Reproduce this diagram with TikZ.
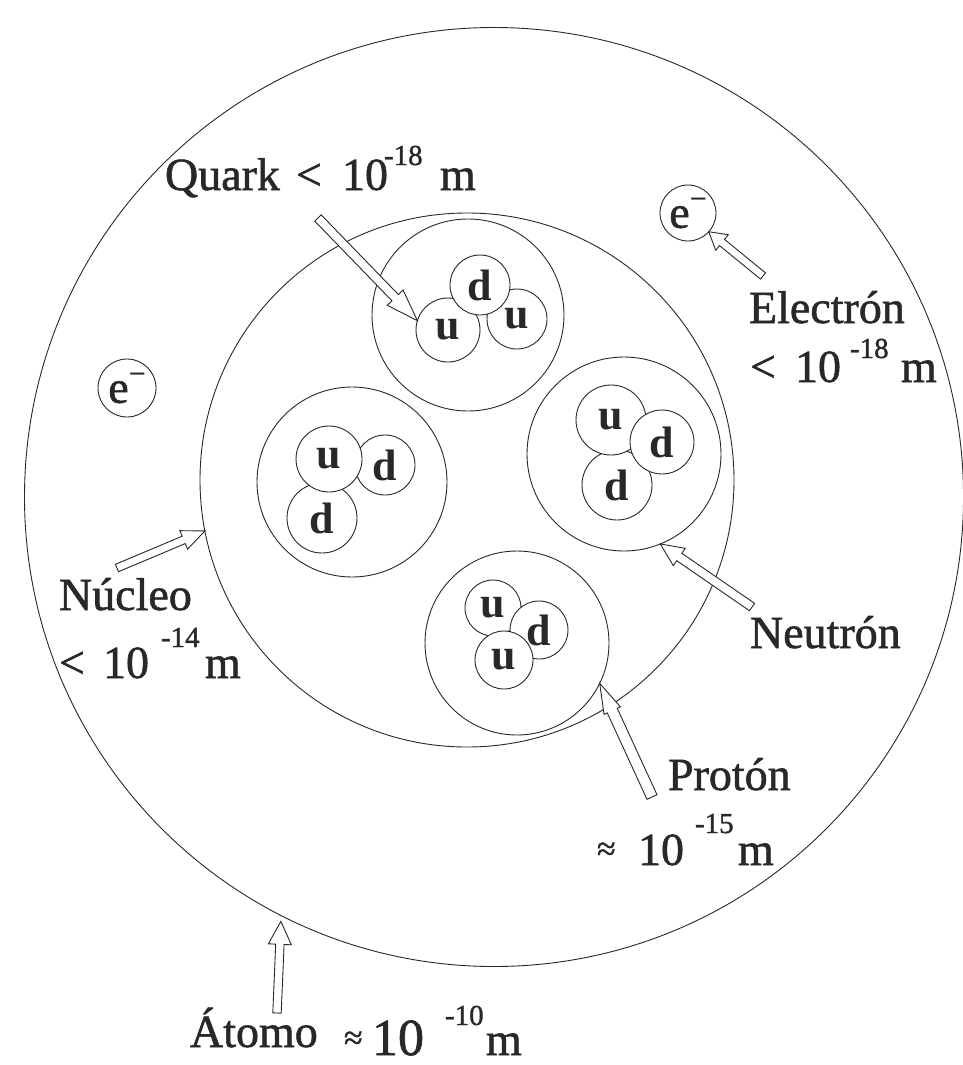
\documentclass[tikz,border=0pt]{standalone}
\usepackage{fontspec}
\setmainfont{Liberation Serif}
\newfontfamily\heavyserif{Liberation Serif}[RawFeature={embolden=1.2}]
\usetikzlibrary{calc}
\definecolor{ink}{RGB}{40,40,40}
\tikzset{
  ring/.style={circle, draw=ink, line width=0.9pt, inner sep=0pt, outer sep=0pt, minimum size=#1},
  quark/.style={circle, draw=ink, fill=white, line width=0.9pt, inner sep=0pt, outer sep=0pt,
    minimum size=#1, text=ink, font=\fontsize{44}{44}\bfseries\selectfont},
  elec/.style={circle, draw=ink, fill=white, line width=0.9pt, inner sep=0pt, outer sep=0pt,
    minimum size=#1, text=ink, font=\heavyserif\fontsize{46}{46}\selectfont},
  lbl/.style={anchor=base west, inner sep=0pt, outer sep=0pt, text depth=0pt, text=ink,
    font=\heavyserif\fontsize{46}{46}\selectfont},
  suplbl/.style={anchor=base west, inner sep=0pt, outer sep=0pt, text depth=0pt, text=ink,
    font=\heavyserif\fontsize{29}{29}\selectfont},
  approxlbl/.style={anchor=base west, inner sep=0pt, outer sep=0pt, text depth=0pt, text=ink,
    font=\heavyserif\fontsize{34}{34}\selectfont},
  barrow/.style={draw=ink, fill=white, line width=0.9pt, line join=miter},
}
% name, tail, tip, shaft half width, head half width, head length
\newcommand\blockarrow[6]{%
  \coordinate (#1h) at ($(#3)!#6!(#2)$);
  \draw[barrow] ($(#2)!#4!90:(#3)$) -- ($(#1h)!#4!-90:(#2)$) -- ($(#1h)!#5!-90:(#2)$)
    -- (#3) -- ($(#1h)!#5!90:(#2)$) -- ($(#1h)!#4!90:(#2)$) -- ($(#2)!#4!-90:(#3)$) -- cycle;
}
\newcommand\eminus{e\raisebox{0.42em}{\fontsize{30}{30}\selectfont −}}
\begin{document}
\begin{tikzpicture}[x=1pt,y=-1pt]
\fill[white] (0,0) rectangle (962,1065);
\useasboundingbox (0,0) rectangle (962,1065);

% atom and nucleus
\node[ring=939pt] (atom) at (494,497) {};
\node[ring=534pt] (nuc) at (467,480) {};

% nucleons
\node[ring=192pt] (p1) at (468,315) {};
\node[ring=190pt] (n1) at (352,482) {};
\node[ring=194pt] (n2) at (624,454) {};
\node[ring=184pt] (p2) at (517,643) {};

% quarks: top proton
\node[quark=64pt] (u1a) at (448,330) {u};
\node[quark=60pt] (u1b) at (517,319) {u};
\node[quark=60pt] (d1) at (480,285) {d};
% left neutron
\node[quark=60pt] (d2a) at (385,465) {d};
\node[quark=70pt] (d2b) at (322,518) {d};
\node[quark=66pt] (u2) at (329,459) {u};
% right neutron
\node[quark=70pt] (d3b) at (617,485) {d};
\node[quark=70pt] (u3) at (611,420) {u};
\node[quark=64pt] (d3a) at (662,442) {d};
% bottom proton
\node[quark=56pt] (u4a) at (493,608) {u};
\node[quark=58pt] (d4) at (539,630) {d};
\node[quark=58pt] (u4b) at (504,660) {u};

% electrons
\node[elec=56pt] (e1) at (688,213) {\eminus};
\node[elec=58pt] (e2) at (127,388) {\eminus};

% labels
\node[lbl] (qL) at (165,190) {Quark};
\node[lbl] (qLlt) at (296,190) {<};
\node[lbl] (qLten) at (342,190) {10};
\node[suplbl] (qLexp) at (384,165) {-18};
\node[lbl] (qLm) at (440,190) {m};

\node[lbl] (eL) at (749,323) {Electrón};
\node[lbl] (eLlt) at (750,382) {<};
\node[lbl] (eLten) at (795,382) {10};
\node[suplbl] (eLexp) at (850,358) {-18};
\node[lbl] (eLm) at (901,382) {m};

\node[lbl] (nL) at (59,610) {Núcleo};
\node[lbl] (nLlt) at (59,678) {<};
\node[lbl] (nLten) at (103,678) {10};
\node[suplbl] (nLexp) at (161,647) {-14};
\node[lbl] (nLm) at (205,678) {m};

\node[lbl] (neL) at (750,648) {Neutrón};

\node[lbl] (pL) at (668,790) {Protón};
\node[approxlbl] (pLap) at (597,860) {≈};
\node[lbl] (pLten) at (638,865) {10};
\node[suplbl] (pLexp) at (695,833) {-15};
\node[lbl] (pLm) at (738,865) {m};

\node[lbl] (aL) at (190,1047) {Átomo};
\node[approxlbl] (aLap) at (344,1049) {≈};
\node[lbl, font=\heavyserif\fontsize{52}{52}\selectfont] (aLten) at (372,1055) {10};
\node[suplbl] (aLexp) at (445,1025) {-10};
\node[lbl] (aLm) at (486,1055) {m};

% arrows
\coordinate (qtail) at (318,218);
\coordinate (etail) at (763,276);
\coordinate (ntail) at (117,568);
\coordinate (netail) at (752,607);
\coordinate (ptail) at (652,797);
\coordinate (atail) at (277,1013);
\coordinate (atip) at ($(atom.-117.5)+(0,6)$);

\blockarrow{qa}{qtail}{u1a.163}{4.5pt}{11pt}{32pt}
\blockarrow{ea}{etail}{e1.-42}{4pt}{10pt}{17pt}
\blockarrow{na}{ntail}{nuc.191}{4pt}{10pt}{23pt}
\blockarrow{nea}{netail}{n2.-68}{4.5pt}{10.5pt}{23pt}
\blockarrow{pa}{ptail}{p2.-26}{5.5pt}{9pt}{30pt}
\blockarrow{aa}{atail}{atip}{4.2pt}{11.5pt}{23pt}
\end{tikzpicture}
\end{document}
